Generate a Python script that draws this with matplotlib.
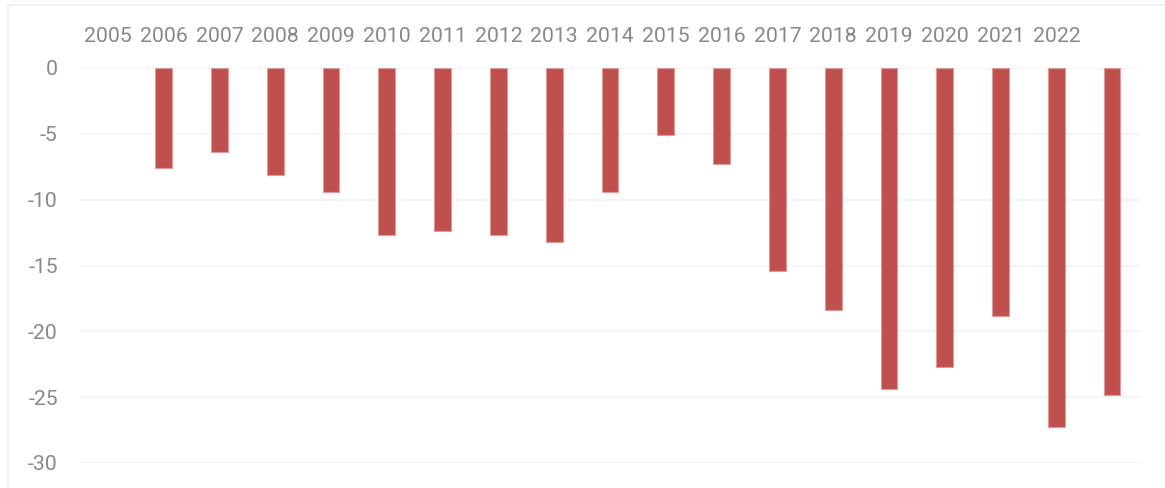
import matplotlib.pyplot as plt
from matplotlib.patches import Rectangle

# categories (first slot has no bar, last slot has no label in the original)
years = ['2005', '2006', '2007', '2008', '2009', '2010', '2011', '2012', '2013',
         '2014', '2015', '2016', '2017', '2018', '2019', '2020', '2021', '2022', '']
values = [float('nan'), -7.6, -6.4, -8.1, -9.4, -12.7, -12.4, -12.7, -13.2,
          -9.4, -5.1, -7.3, -15.4, -18.4, -24.4, -22.7, -18.8, -27.3, -24.8]
yticks = [0, -5, -10, -15, -20, -25, -30]

grey = '#898989'
plt.rcParams['font.family'] = ['Roboto', 'DejaVu Sans']

fig = plt.figure(figsize=(11.65, 4.88), dpi=100)
ax = fig.add_axes([80 / 1165, 1 - 463 / 488, 1060 / 1165, 395 / 488])

# chart area frame
fig.patches.append(Rectangle((8 / 1165, -0.1), 1.2, 1 - 5 / 488 + 0.1,
                             transform=fig.transFigure, fill=False,
                             edgecolor='#f0f0f0', linewidth=1.2))

x = range(len(years))
ax.bar(x, values, width=0.3, color='#c0504d', edgecolor='#dc9a98',
       linewidth=0.8, zorder=3)

ax.set_xlim(-0.5, len(years) - 0.5)
ax.set_ylim(-30, 0)
ax.set_yticks(yticks)
ax.set_yticklabels([str(v) for v in yticks])
ax.set_xticks(list(x))
ax.set_xticklabels(years)
ax.xaxis.tick_top()

ax.grid(axis='y', color='#f3f3f3', linewidth=1.2, zorder=0)
for s in ax.spines.values():
    s.set_visible(False)
ax.tick_params(axis='both', length=0, colors=grey, labelsize=15.3)
ax.tick_params(axis='x', pad=15.5)
ax.tick_params(axis='y', pad=16)

fig.savefig('out.png', dpi=100, facecolor='white')
